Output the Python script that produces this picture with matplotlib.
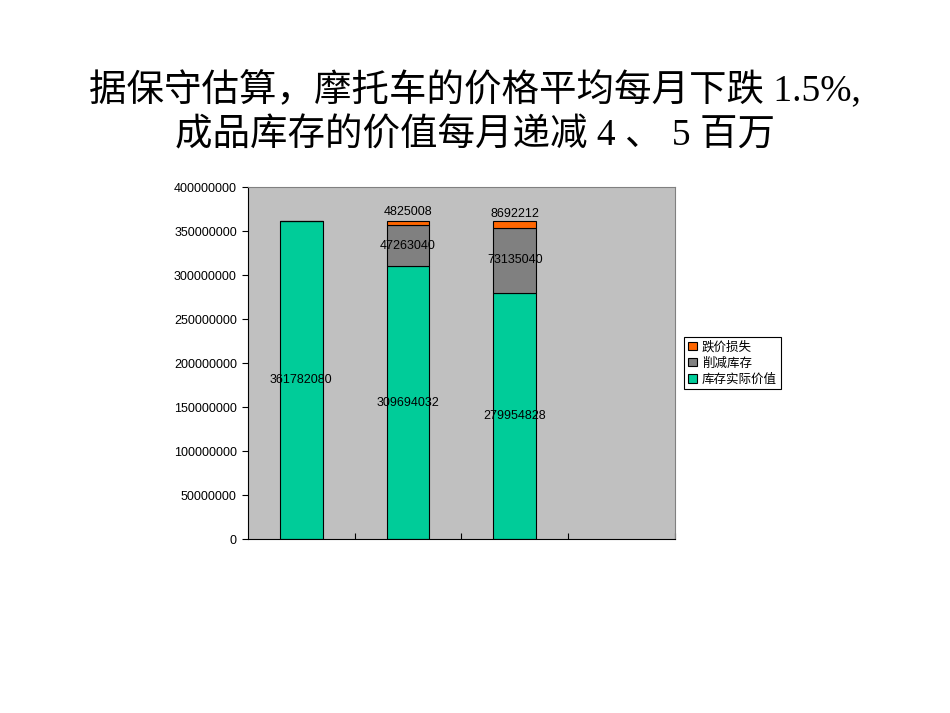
import matplotlib
matplotlib.use("Agg")
import matplotlib.pyplot as plt

# data
series = ["库存实际价值", "削减库存", "跌价损失"]
actualValue = [361782080, 309694032, 279954828]
reducedStock = [0, 47263040, 73135040]
priceLoss = [0, 4825008, 8692212]
colors = ["#00CC99", "#808080", "#FF6600"]
yTicks = [0, 50000000, 100000000, 150000000, 200000000,
          250000000, 300000000, 350000000, 400000000]

titleFont = ["Liberation Serif", "Noto Sans CJK SC"]
cjkFont = ["Noto Sans CJK SC", "DejaVu Sans"]
numFont = ["Liberation Sans", "DejaVu Sans"]

fig = plt.figure(figsize=(9.5, 7.13), dpi=100)
fig.text(0.5, 0.874, "据保守估算，摩托车的价格平均每月下跌 1.5%,",
         ha="center", va="center", fontsize=27, family=titleFont)
fig.text(0.5, 0.809, "成品库存的价值每月递减 4 、 5 百万",
         ha="center", va="center", fontsize=27, family=titleFont)

ax = fig.add_axes([0.261, 0.244, 0.4495, 0.4937])
ax.set_facecolor("#C0C0C0")

x = [0.5, 1.5, 2.5]
width = 0.4
b1 = ax.bar(x, actualValue, width, color=colors[0], edgecolor="black",
            linewidth=0.8, label=series[0])
b2 = ax.bar(x, reducedStock, width, bottom=actualValue, color=colors[1],
            edgecolor="black", linewidth=0.8, label=series[1])
bottom3 = [a + r for a, r in zip(actualValue, reducedStock)]
b3 = ax.bar(x, priceLoss, width, bottom=bottom3, color=colors[2],
            edgecolor="black", linewidth=0.8, label=series[2])

# value labels
for i in range(len(x)):
    ax.text(x[i], actualValue[i] / 2, str(actualValue[i]), ha="center",
            va="center", fontsize=9, family=numFont)
    if reducedStock[i] > 0:
        ax.text(x[i], actualValue[i] + reducedStock[i] / 2, str(reducedStock[i]),
                ha="center", va="center", fontsize=9, family=numFont)
    if priceLoss[i] > 0:
        ax.annotate(str(priceLoss[i]), (x[i], bottom3[i] + priceLoss[i] / 2),
                    xytext=(0, 7.5), textcoords="offset points",
                    ha="center", va="center", fontsize=9, family=numFont)

ax.set_xlim(0, 4)
ax.set_ylim(0, 400000000)
ax.set_yticks(yTicks)
ax.set_yticklabels([str(t) for t in yTicks], fontsize=9, family=numFont)
ax.set_xticks([1, 2, 3, 4])
ax.set_xticklabels([])
ax.tick_params(axis="x", direction="in", length=4, width=0.8)
ax.tick_params(axis="y", direction="out", length=4, width=0.8, pad=4)

ax.spines["left"].set_color("black")
ax.spines["bottom"].set_color("black")
ax.spines["top"].set_color("#808080")
ax.spines["right"].set_color("#808080")

handles = [b3, b2, b1]
leg = ax.legend(handles, [series[2], series[1], series[0]],
                loc="upper left", bbox_to_anchor=(1.022, 0.575),
                prop={"family": cjkFont, "size": 9}, frameon=True,
                fancybox=False, edgecolor="black", framealpha=1,
                handlelength=0.7, handleheight=0.7, handletextpad=0.4,
                borderpad=0.3, labelspacing=0.25, borderaxespad=0)
leg.get_frame().set_linewidth(0.8)

fig.savefig("out.png", dpi=100)
